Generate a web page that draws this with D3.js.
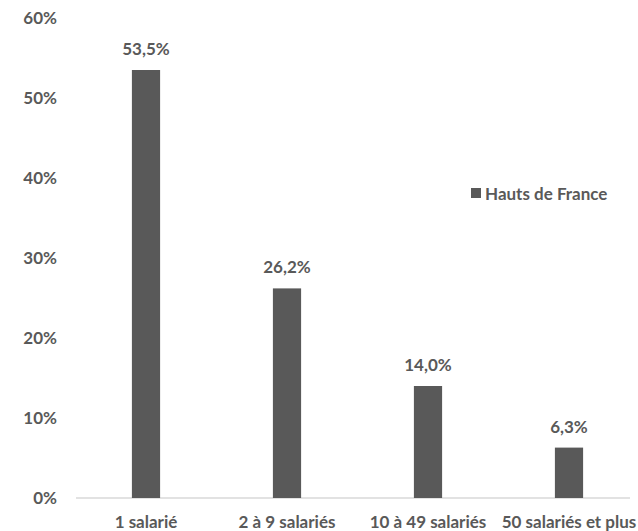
<!DOCTYPE html>
<html><head><meta charset="utf-8">
<script src="https://cdn.jsdelivr.net/npm/d3@7"></script>
<style>body{margin:0;background:#fff}svg{display:block}text{font-family:Lato,"Open Sans",sans-serif;font-weight:bold;fill:#595959}</style>
</head><body><svg id="c" width="638" height="531"></svg>
<script>
const categories = ["1 salarié","2 à 9 salariés","10 à 49 salariés","50 salariés et plus"];
const values = [53.5, 26.2, 14.0, 6.3];
const yTicks = [0,10,20,30,40,50,60];
const seriesName = "Hauts de France";

const svg = d3.select("#c");
const x = d3.scaleBand().domain(categories).range([75.5, 639.5]).paddingInner(0.8).paddingOuter(0.4);
const y = d3.scaleLinear().domain([0,60]).range([498, 18]);
const fmt = v => v.toFixed(1).replace(".", ",") + "%";
const fs = "17px";

svg.append("g").selectAll("text").data(yTicks).join("text")
  .attr("x", 57).attr("y", d => y(d)).attr("dy","0.35em").attr("text-anchor","end")
  .style("font-size",fs).text(d => d + "%");

svg.append("line").attr("x1",76).attr("x2",630).attr("y1",y(0)).attr("y2",y(0))
  .attr("stroke","#d9d9d9").attr("stroke-width",1.3);

svg.append("g").selectAll("rect").data(values).join("rect")
  .attr("x",(d,i)=>x(categories[i])).attr("width",x.bandwidth())
  .attr("y",d=>y(d)).attr("height",d=>y(0)-y(d)).attr("fill","#595959");

svg.append("g").selectAll("text").data(values).join("text")
  .attr("x",(d,i)=>x(categories[i])+x.bandwidth()/2).attr("y",d=>y(d)-21)
  .attr("dy","0.35em").attr("text-anchor","middle").style("font-size",fs).text(fmt);

svg.append("g").selectAll("text").data(categories).join("text")
  .attr("x",d=>x(d)+x.bandwidth()/2).attr("y",522).attr("dy","0.35em")
  .attr("text-anchor","middle").style("font-size",fs).text(d=>d);

const lg = svg.append("g");
lg.append("rect").attr("x",471).attr("y",188).attr("width",10).attr("height",10).attr("fill","#595959");
lg.append("text").attr("x",485).attr("y",194).attr("dy","0.35em").style("font-size",fs).text(seriesName);
</script></body></html>
